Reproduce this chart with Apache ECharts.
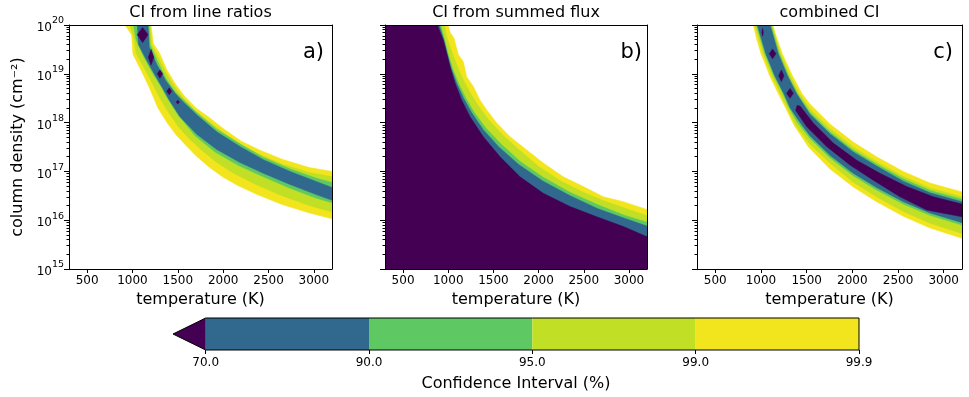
<!DOCTYPE html>
<html>
<head>
<meta charset="utf-8">
<script src="https://cdn.jsdelivr.net/npm/echarts@6/dist/echarts.min.js"></script>
<style>
  html, body { margin: 0; padding: 0; background: #fff; }
  #chart { width: 969px; height: 397px; }
</style>
</head>
<body>
<div id="chart"></div>
<script>
// axis ranges (temperature in K, column density as log10 of cm^-2)
const tMin = 300, tMax = 3200;
const nMin = 15, nMax = 20;
const xTicks = [500, 1000, 1500, 2000, 2500, 3000];
const yTicks = [15, 16, 17, 18, 19, 20];
const panelTitles = ['CI from line ratios', 'CI from summed flux', 'combined CI'];
const panelTags = ['a)', 'b)', 'c)'];
const ciLabels = ['70.0', '90.0', '95.0', '99.0', '99.9'];

// contour outlines, points are [temperature, log10 N]
// panel a: line ratios (hi = upper/right edge, lo = lower/left edge)
const a999Hi = [[1205,20],[1230,19.62],[1300,19.42],[1380,19.08],[1470,18.80],[1570,18.55],[1700,18.30],[1850,18.10],[2000,17.88],[2200,17.62],[2400,17.44],[2650,17.25],[2950,17.08],[3200,17.0]];
const a999Lo = [[918,20],[990,19.8],[1005,19.4],[1100,19.05],[1190,18.7],[1280,18.3],[1380,18.0],[1480,17.75],[1580,17.55],[1700,17.32],[1850,17.08],[2000,16.88],[2150,16.72],[2380,16.52],[2650,16.32],[2950,16.15],[3200,16.03]];
const a99Hi = [[1192,20],[1212,19.6],[1280,19.36],[1360,19.05],[1450,18.78],[1545,18.53],[1680,18.26],[1830,18.04],[2000,17.80],[2200,17.54],[2400,17.35],[2650,17.15],[2950,16.98],[3200,16.89]];
const a99Lo = [[973,20],[1020,19.7],[1040,19.42],[1130,19.12],[1220,18.8],[1310,18.48],[1400,18.2],[1500,17.93],[1620,17.68],[1760,17.44],[1920,17.2],[2100,16.98],[2350,16.74],[2650,16.50],[2950,16.30],[3200,16.17]];
const a95Hi = [[1182,20],[1195,19.6],[1270,19.28],[1370,18.9],[1475,18.62],[1570,18.45],[1710,18.2],[1930,17.86],[2190,17.56],[2440,17.29],[2740,17.05],[3030,16.86],[3200,16.77]];
const a95Lo = [[1012,20],[1040,19.7],[1110,19.4],[1210,19.05],[1310,18.75],[1385,18.5],[1500,18.16],[1690,17.73],[1910,17.40],[2170,17.12],[2430,16.90],[2730,16.66],[3030,16.45],[3200,16.36]];
const a90Hi = [[1172,20],[1185,19.55],[1265,19.2],[1370,18.85],[1470,18.6],[1561,18.42],[1708,18.16],[1929,17.81],[2186,17.51],[2443,17.24],[2738,17.0],[3032,16.79],[3200,16.67]];
const a90Lo = [[1054,20],[1065,19.6],[1150,19.3],[1240,19.0],[1335,18.7],[1406,18.46],[1524,18.12],[1708,17.76],[1929,17.45],[2186,17.18],[2443,16.96],[2738,16.73],[3032,16.52],[3200,16.41]];
const a70Blobs = [
  [[1052,19.8],[1112,19.95],[1172,19.8],[1112,19.64]],
  [[1175,19.34],[1205,19.5],[1235,19.34],[1205,19.18]],
  [[1273,19.0],[1303,19.08],[1333,19.0],[1303,18.91]],
  [[1378,18.64],[1405,18.71],[1432,18.64],[1405,18.57]],
  [[1482,18.42],[1500,18.46],[1518,18.42],[1500,18.38]]
];

// panel b: summed flux (each level fills everything below its edge)
const b999 = [[1001,20],[1020,19.85],[1064,19.73],[1112,19.39],[1167,19.25],[1204,18.94],[1278,18.74],[1352,18.46],[1426,18.26],[1537,17.99],[1684,17.71],[1869,17.44],[2052,17.17],[2274,16.89],[2495,16.69],[2717,16.48],[2938,16.38],[3200,16.22]];
const b99 = [[955,20],[985,19.75],[1030,19.5],[1090,19.2],[1160,18.9],[1240,18.62],[1330,18.35],[1450,18.05],[1600,17.75],[1780,17.45],[2000,17.1],[2250,16.8],[2500,16.57],[2750,16.38],[3000,16.22],[3200,16.09]];
const b95 = [[915,20],[960,19.7],[1000,19.4],[1050,19.1],[1115,18.8],[1195,18.5],[1290,18.2],[1420,17.88],[1590,17.55],[1800,17.2],[2050,16.88],[2350,16.57],[2650,16.32],[2950,16.1],[3200,15.96]];
const b90 = [[900,20],[950,19.7],[990,19.4],[1035,19.1],[1095,18.8],[1170,18.5],[1260,18.2],[1390,17.85],[1560,17.5],[1780,17.14],[2050,16.8],[2350,16.5],[2650,16.24],[2950,16.04],[3200,15.88]];
const b70 = [[879,20],[946,19.69],[983,19.42],[1020,19.15],[1075,18.81],[1149,18.46],[1241,18.12],[1388,17.71],[1573,17.30],[1794,16.89],[2052,16.55],[2348,16.28],[2643,16.07],[2938,15.87],[3200,15.66]];

// panel c: combined
const c999Hi = [[1128,20],[1180,19.7],[1235,19.41],[1290,19.18],[1345,18.96],[1450,18.59],[1536,18.38],[1755,17.97],[2010,17.6],[2265,17.3],[2557,17.0],[2850,16.76],[3200,16.58]];
const c999Lo = [[916,20],[955,19.7],[1000,19.41],[1050,19.18],[1095,18.96],[1190,18.59],[1270,18.3],[1360,17.95],[1520,17.5],[1755,17.05],[2010,16.68],[2265,16.38],[2557,16.08],[2850,15.84],[3200,15.63]];
const c99Hi = [[1120,20],[1215,19.41],[1320,18.96],[1420,18.59],[1536,18.28],[1755,17.88],[2010,17.5],[2265,17.2],[2557,16.9],[2850,16.66],[3200,16.48]];
const c99Lo = [[935,20],[1025,19.41],[1120,18.96],[1215,18.59],[1290,18.3],[1380,17.95],[1536,17.56],[1755,17.17],[2010,16.78],[2265,16.48],[2557,16.18],[2850,15.94],[3200,15.73]];
const c95Hi = [[1110,20],[1200,19.41],[1300,18.96],[1400,18.59],[1536,18.21],[1755,17.81],[2010,17.44],[2265,17.15],[2557,16.85],[2850,16.61],[3200,16.43]];
const c95Lo = [[950,20],[1043,19.41],[1141,18.96],[1241,18.59],[1310,18.3],[1400,18.0],[1536,17.68],[1755,17.28],[2010,16.91],[2265,16.62],[2557,16.33],[2850,16.10],[3200,15.90]];
const c90Hi = [[1100,20],[1190,19.41],[1290,18.96],[1390,18.59],[1536,18.17],[1755,17.77],[2010,17.40],[2265,17.11],[2557,16.80],[2850,16.56],[3200,16.38]];
const c90Lo = [[960,20],[1053,19.41],[1151,18.96],[1251,18.59],[1320,18.3],[1410,18.05],[1536,17.73],[1755,17.33],[2010,16.96],[2265,16.67],[2557,16.38],[2850,16.15],[3200,15.95]];
const c70Hi = [[1395,18.35],[1427,18.34],[1572,17.99],[1791,17.58],[2047,17.23],[2302,16.96],[2594,16.69],[2885,16.48],[3200,16.33]];
const c70Lo = [[1380,18.25],[1500,17.92],[1719,17.51],[1974,17.13],[2229,16.82],[2521,16.48],[2813,16.21],[3200,16.07]];
const c70Blobs = [
  [[1010,19.85],[1018,19.93],[1026,19.85],[1018,19.77]],
  [[1091,19.41],[1127,19.51],[1164,19.41],[1127,19.31]],
  [[1194,18.96],[1223,19.08],[1252,18.96],[1223,18.84]],
  [[1281,18.60],[1318,18.70],[1354,18.60],[1318,18.50]]
];

// viridis colours: below 70, 70-90, 90-95, 95-99, 99-99.9
const ciColors = ['#440154', '#31688e', '#5ec962', '#c0df25', '#f2e51d'];
const font = 'DejaVu Sans';

const minorTicks = [];
yTicks.slice(0, -1).forEach(n => {
  for (let k = 2; k <= 9; k++) minorTicks.push(n + Math.log10(k));
});

function band(hi, lo) {
  return hi.concat(lo.slice().reverse());
}
function below(edge) {
  return edge.concat([[tMax, nMin], [tMin, nMin], [tMin, nMax]]);
}
function poly(gi, pts, color) {
  return {
    type: 'custom', coordinateSystem: 'cartesian2d',
    xAxisIndex: gi, yAxisIndex: gi, clip: true, silent: true,
    data: [pts[0]],
    renderItem: (params, api) => ({
      type: 'polygon',
      shape: { points: pts.map(p => api.coord(p)) },
      style: { fill: color, stroke: color, lineWidth: 0.5 }
    })
  };
}

const series = [
  poly(0, band(a999Hi, a999Lo), ciColors[4]),
  poly(0, band(a99Hi, a99Lo), ciColors[3]),
  poly(0, band(a95Hi, a95Lo), ciColors[2]),
  poly(0, band(a90Hi, a90Lo), ciColors[1]),
  ...a70Blobs.map(b => poly(0, b, ciColors[0])),
  poly(1, below(b999), ciColors[4]),
  poly(1, below(b99), ciColors[3]),
  poly(1, below(b95), ciColors[2]),
  poly(1, below(b90), ciColors[1]),
  poly(1, below(b70), ciColors[0]),
  poly(2, band(c999Hi, c999Lo), ciColors[4]),
  poly(2, band(c99Hi, c99Lo), ciColors[3]),
  poly(2, band(c95Hi, c95Lo), ciColors[2]),
  poly(2, band(c90Hi, c90Lo), ciColors[1]),
  poly(2, band(c70Hi, c70Lo), ciColors[0]),
  ...c70Blobs.map(b => poly(2, b, ciColors[0]))
];

// colorbar: one cell per interval, plus the "under" arrow
const cbCells = ciLabels.slice(0, -1).map((l, i) => [i, i + 1]);
series.push({
  type: 'custom', coordinateSystem: 'cartesian2d', xAxisIndex: 3, yAxisIndex: 3, silent: true,
  data: cbCells,
  renderItem: (params, api) => {
    const p0 = api.coord([api.value(0), 1]);
    const p1 = api.coord([api.value(1), 0]);
    return { type: 'rect', shape: { x: p0[0], y: p0[1], width: p1[0] - p0[0], height: p1[1] - p0[1] },
             style: { fill: ciColors[params.dataIndex + 1] } };
  }
});
const cbArrow = -0.2;
series.push({
  type: 'custom', coordinateSystem: 'cartesian2d', xAxisIndex: 3, yAxisIndex: 3, silent: true,
  data: [[0, 0]],
  renderItem: (params, api) => ({
    type: 'group', children: [
      { type: 'polygon', shape: { points: [[cbArrow, 0.5], [0, 1], [0, 0]].map(p => api.coord(p)) },
        style: { fill: ciColors[0] } },
      { type: 'polygon', shape: { points: [[cbArrow, 0.5], [0, 1], [cbCells.length, 1], [cbCells.length, 0], [0, 0]].map(p => api.coord(p)) },
        style: { fill: 'none', stroke: '#000', lineWidth: 1 } }
    ]
  })
});

const grids = [
  { left: 69, top: 25, width: 263, height: 244 },
  { left: 385, top: 25, width: 262, height: 244 },
  { left: 697, top: 25, width: 265, height: 244 },
  { left: 173, top: 318, width: 686, height: 32 }
];

const xAxis = [], yAxis = [];
[0, 1, 2].forEach(i => {
  xAxis.push({
    type: 'value', gridIndex: i, min: tMin, max: tMax, z: 10,
    name: 'temperature (K)', nameLocation: 'middle', nameGap: 22,
    nameTextStyle: { fontSize: 16, color: '#000', fontFamily: font },
    axisLine: { lineStyle: { color: '#000', width: 1 } },
    axisTick: { customValues: xTicks, length: 4, lineStyle: { color: '#000' } },
    axisLabel: { customValues: xTicks, formatter: v => String(v), fontSize: 12, color: '#000', fontFamily: font, margin: 6 },
    splitLine: { show: false }
  });
  yAxis.push({
    type: 'value', gridIndex: i, min: nMin, max: nMax, z: 10, position: 'left',
    name: i === 0 ? 'column density (cm\u207B\u00B2)' : '', nameLocation: 'middle', nameGap: 43, nameRotate: 90,
    nameTextStyle: { fontSize: 16, color: '#000', fontFamily: font },
    axisLine: { lineStyle: { color: '#000', width: 1 } },
    axisTick: { customValues: yTicks, length: 5, lineStyle: { color: '#000' } },
    axisLabel: {
      show: i === 0, customValues: yTicks, margin: 5,
      formatter: v => '{b|10}{e|' + v + '}',
      rich: {
        b: { fontSize: 12, color: '#000', fontFamily: font, padding: [6, 0, 0, 0] },
        e: { fontSize: 9.5, color: '#000', fontFamily: font, padding: [0, 0, 8, 0] }
      }
    },
    splitLine: { show: false }
  });
});
xAxis.push({
  type: 'value', gridIndex: 3, min: cbArrow, max: cbCells.length,
  name: 'Confidence Interval (%)', nameLocation: 'middle', nameGap: 26,
  nameTextStyle: { fontSize: 16, color: '#000', fontFamily: font },
  axisLine: { show: false },
  axisTick: { customValues: [0, 1, 2, 3, 4], length: 4, lineStyle: { color: '#000' } },
  axisLabel: { customValues: [0, 1, 2, 3, 4], formatter: v => ciLabels[Math.round(v)],
               fontSize: 12, color: '#000', fontFamily: font, margin: 7 },
  splitLine: { show: false }
});
yAxis.push({ type: 'value', gridIndex: 3, min: 0, max: 1, show: false });
[0, 1, 2].forEach(i => {
  xAxis.push({
    type: 'value', gridIndex: i, min: tMin, max: tMax, position: 'top', z: 10,
    axisLine: { lineStyle: { color: '#000', width: 1 } },
    axisTick: { show: false }, axisLabel: { show: false }, splitLine: { show: false }
  });
});
[0, 1, 2].forEach(i => {
  yAxis.push({
    type: 'value', gridIndex: i, min: nMin, max: nMax, position: 'left', z: 10,
    axisLine: { show: false },
    axisTick: { customValues: minorTicks, length: 2.5, lineStyle: { color: '#000' } },
    axisLabel: { show: false }, splitLine: { show: false }
  });
});
[0, 1, 2].forEach(i => {
  yAxis.push({
    type: 'value', gridIndex: i, min: nMin, max: nMax, position: 'right', z: 10,
    axisLine: { lineStyle: { color: '#000', width: 1 } },
    axisTick: { show: false }, axisLabel: { show: false }, splitLine: { show: false }
  });
});

const centers = grids.slice(0, 3).map(g => g.left + g.width / 2);
const tagRight = [324, 642, 953];
const graphic = [];
panelTitles.forEach((t, i) => {
  graphic.push({ type: 'text', x: centers[i], y: 13,
    style: { text: t, fontSize: 16, fontFamily: font, fill: '#000',
             align: 'center', verticalAlign: 'middle', textAlign: 'center', textVerticalAlign: 'middle' } });
  graphic.push({ type: 'text', x: tagRight[i], y: 53, z: 20,
    style: { text: panelTags[i], fontSize: 21, fontFamily: font, fill: '#000',
             align: 'right', verticalAlign: 'middle', textAlign: 'right', textVerticalAlign: 'middle' } });
});

const chart = echarts.init(document.getElementById('chart'));
chart.setOption({
  animation: false,
  backgroundColor: '#fff',
  textStyle: { fontFamily: font },
  grid: grids,
  xAxis: xAxis,
  yAxis: yAxis,
  graphic: graphic,
  series: series
});
</script>
</body>
</html>
